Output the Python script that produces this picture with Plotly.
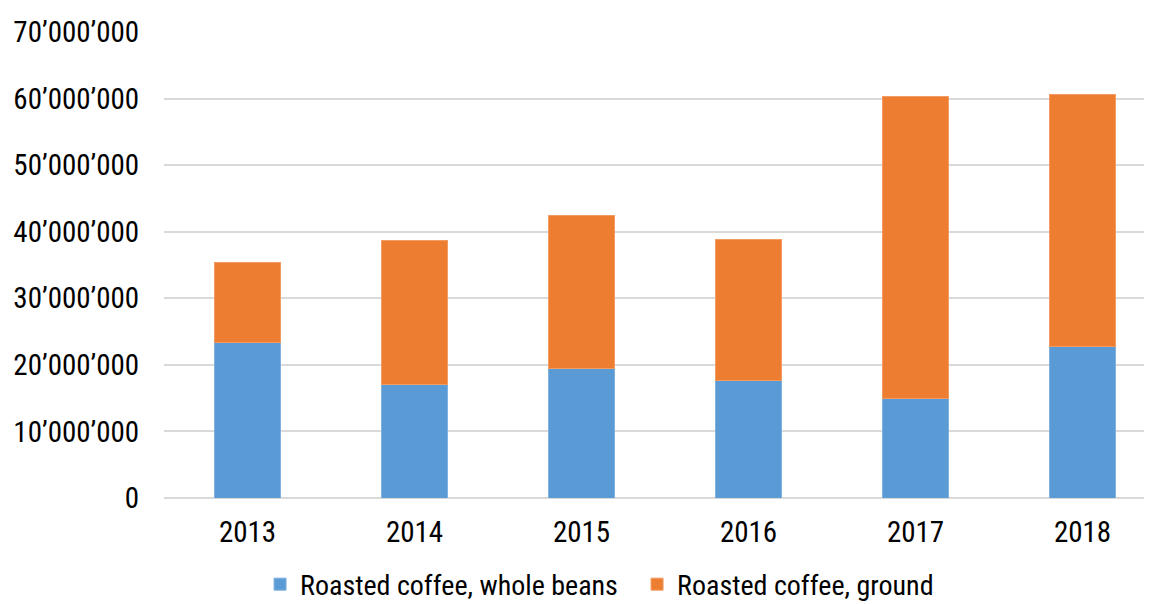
import plotly.graph_objects as go

years = ["2013", "2014", "2015", "2016", "2017", "2018"]
whole_beans = [23.3e6, 17.0e6, 19.4e6, 17.6e6, 15.0e6, 22.7e6]
ground = [12.15e6, 21.75e6, 23.1e6, 21.3e6, 45.35e6, 37.85e6]
y_tickvals = [0, 10e6, 20e6, 30e6, 40e6, 50e6, 60e6, 70e6]
y_ticktext = ["0", "10’000’000", "20’000’000", "30’000’000", "40’000’000",
              "50’000’000", "60’000’000", "70’000’000"]

FONT = "Liberation Sans Narrow, Roboto Condensed, Arial Narrow, sans-serif"

fig = go.Figure()
fig.add_trace(go.Bar(x=years, y=whole_beans, name="Roasted coffee, whole beans",
                     marker=dict(color="#5B9BD5", line=dict(color="#7FB0E0", width=1))))
fig.add_trace(go.Bar(x=years, y=ground, name="Roasted coffee, ground",
                     marker=dict(color="#ED7D31", line=dict(color="#F29B63", width=1))))

fig.update_layout(
    barmode="stack",
    bargap=0.6,
    width=1152, height=604,
    margin=dict(l=156, r=0, t=24, b=114, autoexpand=False),
    paper_bgcolor="white", plot_bgcolor="white",
    font=dict(family=FONT, size=29, color="#000000"),
    showlegend=True,
    legend=dict(orientation="h", x=0.2188, xref="container", xanchor="left",
                y=0.087, yref="container", yanchor="top",
                font=dict(size=28, family=FONT),
                traceorder="normal", entrywidth=332, entrywidthmode="pixels",
                bgcolor="rgba(0,0,0,0)"),
)
fig.update_xaxes(type="category", range=[-0.5, 5.464], showgrid=False,
                 showline=False, zeroline=False, ticks="outside", ticklen=8,
                 tickcolor="rgba(0,0,0,0)", tickfont=dict(size=29, family=FONT))
fig.update_yaxes(range=[0, 70e6], tickvals=y_tickvals, ticktext=y_ticktext,
                 showgrid=True, gridcolor="#D9D9D9", gridwidth=2,
                 zeroline=True, zerolinecolor="#D9D9D9", zerolinewidth=2,
                 showline=False, ticks="outside", ticklen=18,
                 tickcolor="rgba(0,0,0,0)", tickfont=dict(size=29, family=FONT))

fig.write_html("out.html")
